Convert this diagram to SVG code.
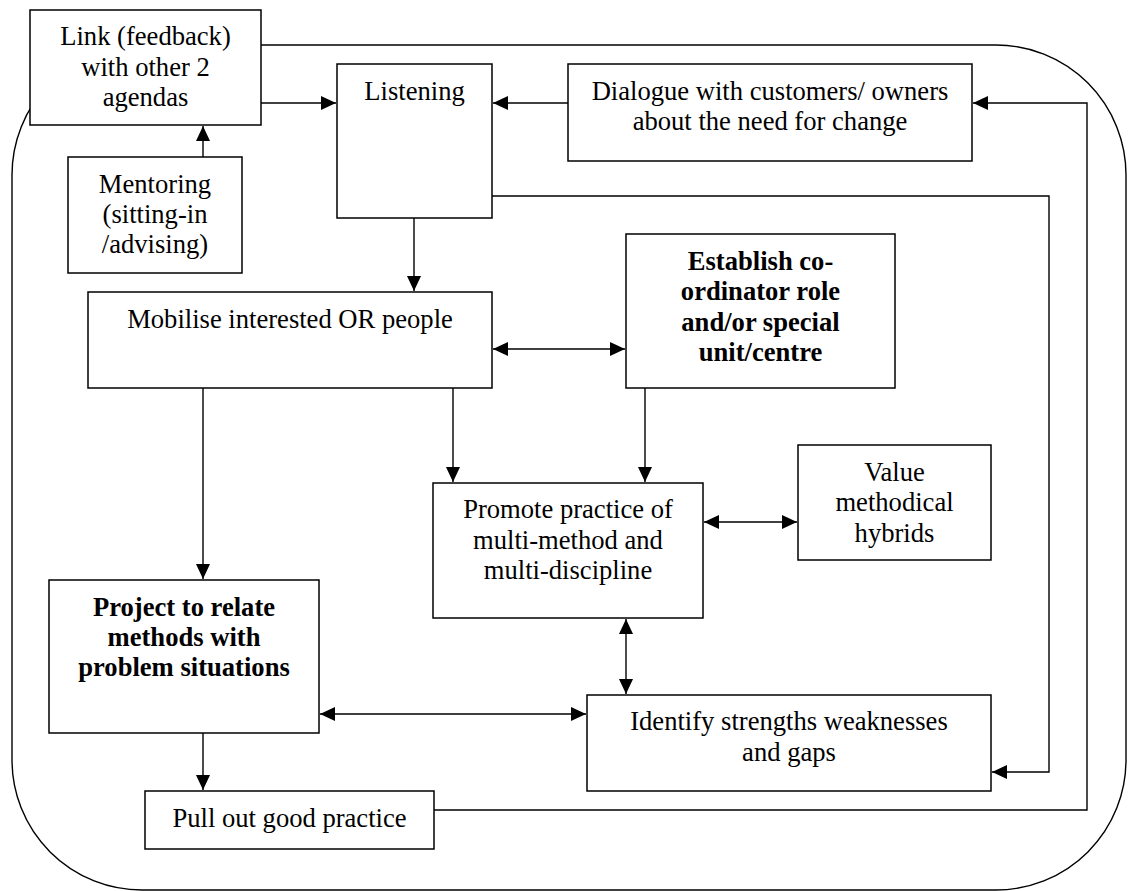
<svg xmlns="http://www.w3.org/2000/svg" width="1128" height="891" viewBox="0 0 1128 891">
<style>
.box{fill:#fff;stroke:#000;stroke-width:1.5}
.frame{fill:none;stroke:#000;stroke-width:1.4}
.c{fill:none;stroke:#000;stroke-width:1.4}
text{font-family:"Liberation Serif","Times New Roman",serif;font-size:26.6px;fill:#000;text-anchor:middle}
.b{font-weight:bold}
</style>
<defs>
<marker id="ah" markerUnits="userSpaceOnUse" markerWidth="15" markerHeight="14" refX="15" refY="7" orient="auto-start-reverse" viewBox="0 0 15 14">
<path d="M0,0 L15,7 L0,14 z" fill="#000"/>
</marker>
</defs>
<rect class="frame" x="12" y="45" width="1114" height="845" rx="130" ry="130"/>
<g id="connectors">
<path class="c" d="M203,157 V126" marker-end="url(#ah)"/>
<path class="c" d="M261,103 H336" marker-end="url(#ah)"/>
<path class="c" d="M568,103 H493" marker-end="url(#ah)"/>
<path class="c" d="M414,218 V291" marker-end="url(#ah)"/>
<path class="c" d="M493,349 H625" marker-start="url(#ah)" marker-end="url(#ah)"/>
<path class="c" d="M453,388 V482" marker-end="url(#ah)"/>
<path class="c" d="M645,388 V482" marker-end="url(#ah)"/>
<path class="c" d="M704,522 H797" marker-start="url(#ah)" marker-end="url(#ah)"/>
<path class="c" d="M203,388 V579" marker-end="url(#ah)"/>
<path class="c" d="M626,619 V694" marker-start="url(#ah)" marker-end="url(#ah)"/>
<path class="c" d="M320,714 H586" marker-start="url(#ah)" marker-end="url(#ah)"/>
<path class="c" d="M203,733 V790" marker-end="url(#ah)"/>
<path class="c" d="M434,810 H1087 V103 H973" marker-end="url(#ah)"/>
<path class="c" d="M492,196 H1049 V772 H992" marker-end="url(#ah)"/>
</g>
<g id="link">
<rect class="box" x="30" y="10" width="231" height="115"/>
<text x="145.5" y="45">Link (feedback)</text>
<text x="145.5" y="75.5">with other 2</text>
<text x="145.5" y="106">agendas</text>
</g>
<g id="mentoring">
<rect class="box" x="68" y="157" width="174" height="116"/>
<text x="155" y="193">Mentoring</text>
<text x="155" y="223">(sitting-in</text>
<text x="155" y="253">/advising)</text>
</g>
<g id="listening">
<rect class="box" x="337" y="64" width="155" height="154"/>
<text x="414.5" y="100">Listening</text>
</g>
<g id="dialogue">
<rect class="box" x="568" y="64" width="404" height="97"/>
<text x="770" y="99.5">Dialogue with customers/ owners</text>
<text x="770" y="130">about the need for change</text>
</g>
<g id="mobilise">
<rect class="box" x="88" y="292" width="404" height="96"/>
<text x="290" y="328">Mobilise interested OR people</text>
</g>
<g id="establish">
<rect class="box" x="626" y="234" width="269" height="154"/>
<text class="b" x="760.5" y="269.5">Establish co-</text>
<text class="b" x="760.5" y="300">ordinator role</text>
<text class="b" x="760.5" y="330.5">and/or special</text>
<text class="b" x="760.5" y="361">unit/centre</text>
</g>
<g id="promote">
<rect class="box" x="433" y="483" width="270" height="135"/>
<text x="568" y="518">Promote practice of</text>
<text x="568" y="548.5">multi-method and</text>
<text x="568" y="579">multi-discipline</text>
</g>
<g id="value">
<rect class="box" x="798" y="445" width="193" height="115"/>
<text x="894.5" y="481">Value</text>
<text x="894.5" y="511">methodical</text>
<text x="894.5" y="541.5">hybrids</text>
</g>
<g id="project">
<rect class="box" x="49" y="580" width="270" height="153"/>
<text class="b" x="184" y="616">Project to relate</text>
<text class="b" x="184" y="646">methods with</text>
<text class="b" x="184" y="676">problem situations</text>
</g>
<g id="identify">
<rect class="box" x="587" y="695" width="404" height="96"/>
<text x="789" y="729.5">Identify strengths weaknesses</text>
<text x="789" y="760.5">and gaps</text>
</g>
<g id="pullout">
<rect class="box" x="145" y="791" width="289" height="58"/>
<text x="289.5" y="827">Pull out good practice</text>
</g>
</svg>
